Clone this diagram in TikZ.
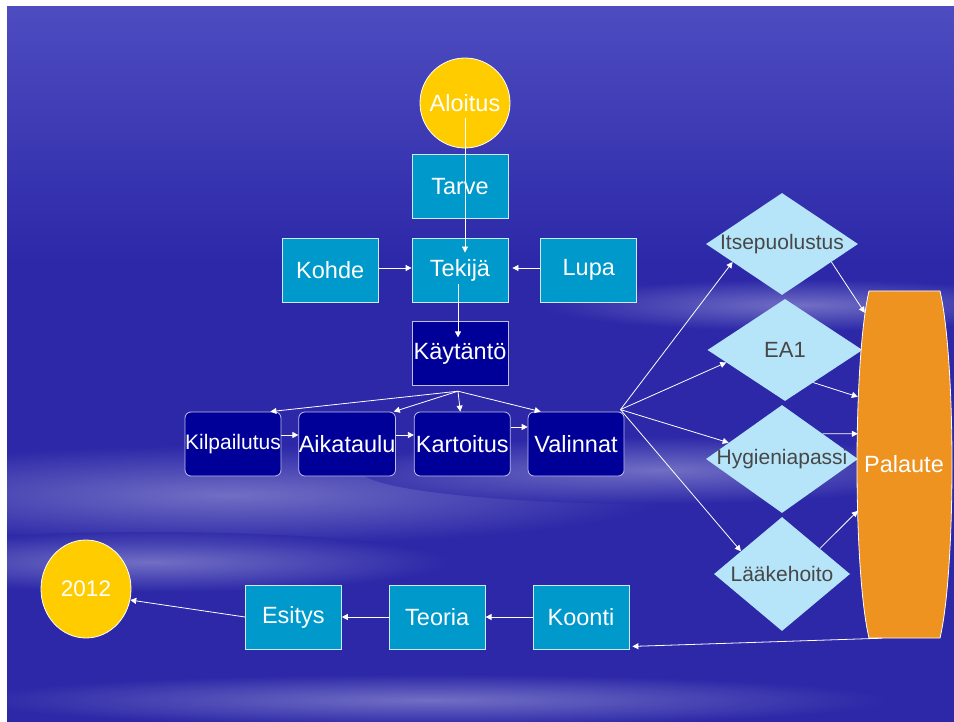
\documentclass[tikz,border=0pt]{standalone}
\usepackage{fontspec}
\setmainfont{Liberation Sans}
\usepackage{tikz}
\usetikzlibrary{arrows.meta,positioning,shapes.geometric}
\definecolor{bgblue}{RGB}{44,40,168}
\definecolor{topblue}{RGB}{78,76,192}
\definecolor{haze}{RGB}{188,188,232}
\definecolor{tealbox}{RGB}{0,153,204}
\definecolor{navybox}{RGB}{0,0,153}
\definecolor{sunny}{RGB}{255,204,0}
\definecolor{paleblue}{RGB}{182,229,250}
\definecolor{orangebar}{RGB}{238,146,32}
% soft white streaks in the sky
\newcommand{\cloud}[4]{%
  \shade[inner color=white!60!bgblue,outer color=bgblue,opacity=0.55] (#1,#2) ellipse ({#3} and {#4});}

\begin{document}
\begin{tikzpicture}[x=1pt,y=-1pt,
  font=\fontsize{23.5}{26}\selectfont,
  box/.style={draw=white!80!tealbox,fill=tealbox,text=white,line width=0.8pt,
    minimum width=96pt,minimum height=64pt,inner sep=0pt},
  navy/.style={box,fill=navybox,draw=white!75!navybox},
  choice/.style={diamond,fill=paleblue,text=black!72,inner sep=0pt,
    font=\fontsize{21}{24}\selectfont},
  sun/.style={fill=sunny,draw=white,text=white,line width=0.8pt,inner sep=0pt},
  link/.style={draw=white,line width=0.8pt,-{Triangle[width=6pt,length=6pt]}}
]
\useasboundingbox (0,0) rectangle (954,722);
\fill[white] (0,0) rectangle (954,722);
\begin{scope}
\clip (7,7) rectangle (954,722);
\fill[bgblue] (7,7) rectangle (954,722);
\shade[top color=topblue,middle color=haze,bottom color=bgblue] (7,7) rectangle (954,262);
\cloud{230}{495}{440}{50}
\cloud{660}{470}{300}{34}
\cloud{150}{562}{300}{30}
\cloud{430}{700}{460}{26}
\cloud{800}{305}{260}{26}
\end{scope}

% start
\node[sun,circle,minimum size=90pt] (aloitus) at (465,103) {Aloitus};
\node[box] (tekija) at (460,270) {Tekijä};
\node[box,above=19pt of tekija] (tarve) {Tarve};
\node[box,left=33pt of tekija] (kohde) {Kohde};
\node[box,right=32pt of tekija] (lupa) {Lupa};
\node[navy,below=19pt of tekija] (kaytanto) {Käytäntö};

% work row
\node[navy,rounded corners=6pt,font=\fontsize{21}{24}\selectfont] (kilpailutus) at (233,444) {Kilpailutus};
\node[navy,rounded corners=6pt,right=17pt of kilpailutus] (aikataulu) {Aikataulu};
\node[navy,rounded corners=6pt,right=18pt of aikataulu] (kartoitus) {Kartoitus};
\node[navy,rounded corners=6pt,right=17pt of kartoitus] (valinnat) {Valinnat};

% courses
\node[choice,minimum width=152pt,minimum height=102pt] (its) at (782,244) {\makebox[0pt]{Itsepuolustus}};
\node[choice,minimum width=155pt,minimum height=102pt,font=\fontsize{22}{24}\selectfont] (ea) at (785,350) {\makebox[0pt]{EA1}};
\node[choice,minimum width=152pt,minimum height=108pt] (hyg) at (782,459) {\makebox[0pt]{Hygieniapassi}};
\node[choice,minimum width=136pt,minimum height=114pt] (laake) at (782,574) {\makebox[0pt]{Lääkehoito}};

% feedback bar
\filldraw[fill=orangebar,draw=white,line width=0.8pt] (869,291) -- (940,291)
  .. controls (956,360) and (956,570) .. (940,638) -- (869,638)
  .. controls (853,570) and (853,360) .. (869,291);
\node[text=white,minimum width=92pt,minimum height=347pt,inner sep=0pt] (palaute) at (904,464.5) {Palaute};

% end row
\node[box] (koonti) at (581,617) {Koonti};
\node[box,left=47pt of koonti] (teoria) {Teoria};
\node[box,left=47pt of teoria] (esitys) {Esitys};
\node[sun,ellipse,minimum width=90pt,minimum height=98pt,font=\fontsize{22.5}{24}\selectfont] (y2012) at (86,589) {2012};

% connectors
\draw[link] ([yshift=-15pt]aloitus.center) -- ([xshift=5pt,yshift=-15pt]tekija.north);
\draw[link] ([yshift=2pt]kohde.east) -- ([yshift=2pt]tekija.west);
\draw[link] ([yshift=2pt]lupa.west) -- ([xshift=4pt,yshift=2pt]tekija.east);
\draw[link] ([xshift=-2pt,yshift=-14pt]tekija.center) -- ([xshift=-2pt,yshift=-16pt]kaytanto.north);
\coordinate (fan) at ([xshift=-2pt,yshift=-5pt]kaytanto.south);
\draw[link] (fan) -- ([xshift=-11pt]kilpailutus.north east);
\draw[link] (fan) -- ([xshift=-2pt]aikataulu.north east);
\draw[link] (fan) -- ([xshift=-2pt]kartoitus.north);
\draw[link] (fan) -- ([xshift=13pt]valinnat.north west);
\draw[link] ([yshift=9pt]kilpailutus.east) -- ([yshift=9pt]aikataulu.west);
\draw[link] ([yshift=9pt]aikataulu.east) -- ([yshift=9pt]kartoitus.west);
\draw[link] ([yshift=17pt]kartoitus.east) -- ([yshift=17pt]valinnat.west);
\coordinate (split) at ([xshift=-4pt,yshift=2pt]valinnat.north east);
\draw[link] (split) -- (its.200);
\draw[link] (split) -- (ea.192);
\draw[link] (split) -- (hyg.163);
\draw[link] (split) -- (laake.151);
\draw[link] (its.340) -- ([xshift=7pt,yshift=-22pt]palaute.north west);
\draw[link] (ea.311) -- ([yshift=-106pt]palaute.north west);
\draw[link] (hyg.32) -- ([yshift=-143pt]palaute.north west);
\draw[link] (laake.34) -- ([yshift=-220pt]palaute.north west);
\draw[link] ([xshift=-22pt]palaute.south) -- ([xshift=3pt,yshift=3pt]koonti.south east);
\draw[link] (koonti) -- (teoria);
\draw[link] (teoria) -- (esitys);
\draw[link] (esitys.west) -- (y2012.346);
\end{tikzpicture}
\end{document}
